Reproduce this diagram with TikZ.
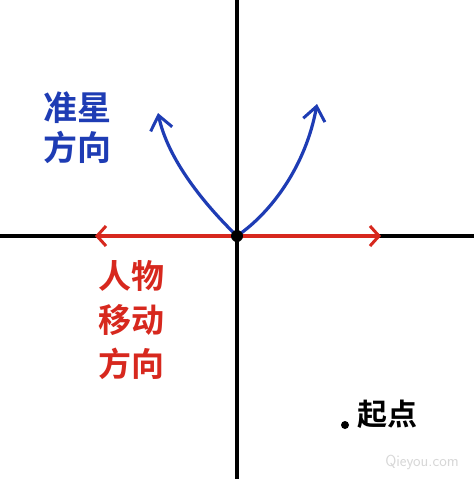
\documentclass[tikz,border=0pt]{standalone}
\usepackage{fontspec}
\newfontfamily\cjk{Noto Sans CJK SC Bold}
\usetikzlibrary{arrows.meta}
\definecolor{penblue}{RGB}{30,60,180}
\definecolor{penred}{RGB}{215,40,30}
\definecolor{wmgray}{RGB}{215,215,215}
\tikzset{
  axis/.style={line width=3.5pt,black},
  movearrow/.style={line width=3.5pt,penred,{Straight Barb[length=9pt,width=20pt,line width=3pt]}-{Straight Barb[length=9pt,width=20pt,line width=3pt]}},
  aimarrow/.style={line width=3.2pt,penblue,-{Straight Barb[length=14pt,width=22pt,line width=3pt]}},
  bluelabel/.style={text=penblue,font=\cjk\fontsize{34}{40}\selectfont,align=center},
  redlabel/.style={text=penred,font=\cjk\fontsize{33}{44}\selectfont,align=center},
  blacklabel/.style={text=black,font=\cjk\fontsize{30}{36}\selectfont},
}
\begin{document}
\begin{tikzpicture}[x=1pt,y=-1pt]
\useasboundingbox (0,0) rectangle (474,479);
\fill[white] (0,0) rectangle (474,479);
% coordinates
\coordinate (top) at (237,0);
\coordinate (bottom) at (237,479);
\coordinate (left) at (0,236);
\coordinate (right) at (474,236);
\coordinate (o) at (237,236);
\coordinate (ml) at (95,236);
\coordinate (mr) at (381,236);
\coordinate (al) at (158,113);
\coordinate (ar) at (317,104);
% axes
\draw[axis] (top) -- (bottom);
\draw[axis] (left) -- (right);
% movement arrow
\draw[movearrow] (ml) -- (mr);
% aim arrows
\draw[aimarrow] (o) .. controls (205,205) and (168,160) .. (al);
\draw[aimarrow] (o) .. controls (272,212) and (306,165) .. (ar);
% origin dot
\node[circle,fill=black,inner sep=0pt,minimum size=12pt] (dot) at (o) {};
% labels
\node[bluelabel] (aim) at (77,128) {准星\\方向};
\node[redlabel] (move) at (131,320) {人物\\移动\\方向};
\node[circle,fill=black,inner sep=0pt,minimum size=8pt] (start) at (345,425) {};
\node[blacklabel,anchor=west] (startlbl) at (354,414) {起点};
% watermark
\node[text=wmgray,font=\sffamily\fontsize{16}{18}\selectfont] (wm) at (422,462) {Qieyou.com};
\end{tikzpicture}
\end{document}
